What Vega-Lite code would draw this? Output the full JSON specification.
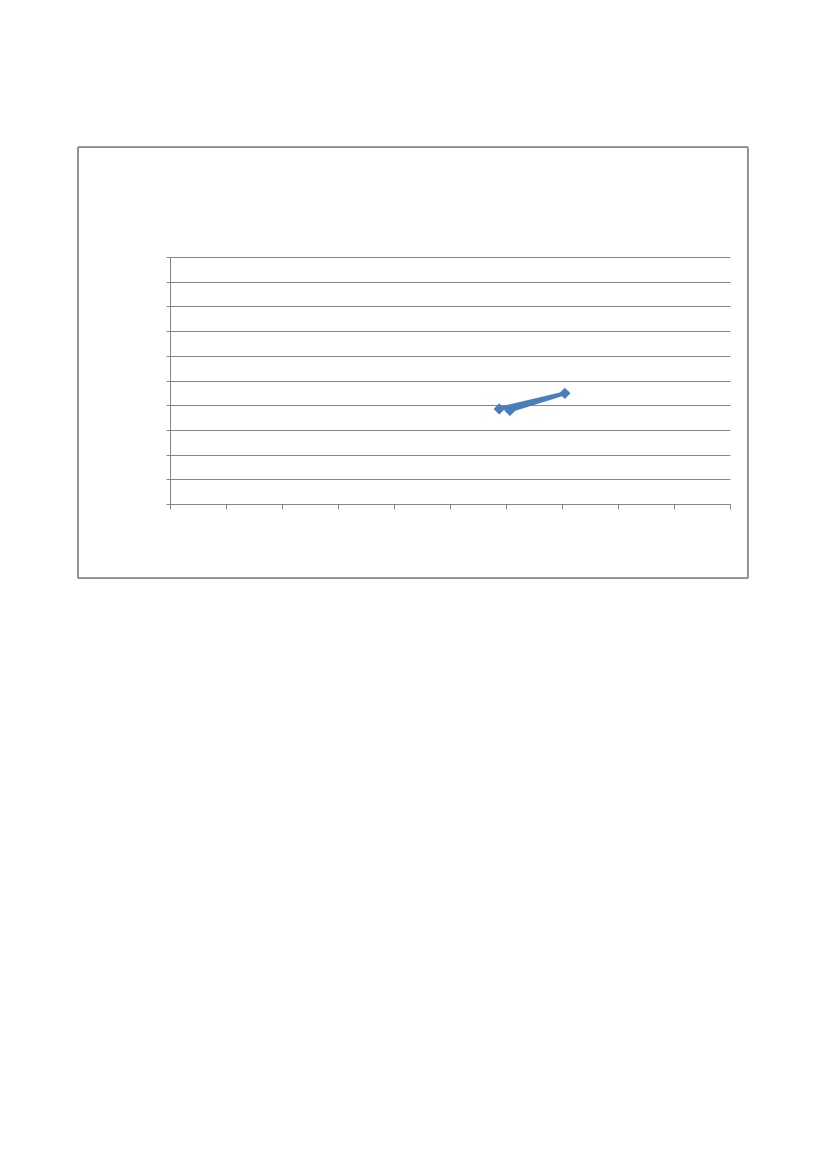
{
  "$schema": "https://vega.github.io/schema/vega-lite/v6.json",
  "autosize": "none",
  "width": 560,
  "height": 247,
  "padding": {"left": 170, "top": 257, "right": 97, "bottom": 665},
  "background": "white",
  "config": {
    "view": {"stroke": null},
    "axis": {"labels": false, "title": null, "tickCount": 10, "domainColor": "#868686", "tickColor": "#868686", "gridColor": "#868686", "gridOpacity": 1, "domainWidth": 1},
    "axisX": {"grid": false, "tickSize": 5},
    "axisY": {"grid": true, "tickSize": 4}
  },
  "data": {"values": [
    {"order": 1, "x": 5.88, "y": 3.85},
    {"order": 2, "x": 7.05, "y": 4.48},
    {"order": 3, "x": 6.07, "y": 3.79}
  ]},
  "layer": [
    {
      "mark": {"type": "line", "color": "#4a7ebb", "strokeWidth": 4},
      "encoding": {
        "x": {"field": "x", "type": "quantitative", "title": null,
              "scale": {"domain": [0, 10], "nice": false, "zero": false}},
        "y": {"field": "y", "type": "quantitative", "title": null,
              "scale": {"domain": [0, 10], "nice": false, "zero": false}},
        "order": {"field": "order"}
      }
    },
    {
      "mark": {"type": "point", "shape": "diamond", "filled": true, "color": "#4a7ebb", "size": 130, "opacity": 1},
      "encoding": {
        "x": {"field": "x", "type": "quantitative", "title": null},
        "y": {"field": "y", "type": "quantitative", "title": null}
      }
    },
    {
      "mark": {"type": "rect", "fill": null, "stroke": "#868686", "strokeWidth": 1, "clip": false},
      "encoding": {
        "x": {"datum": -1.643, "type": "quantitative", "title": null},
        "x2": {"datum": 10.32},
        "y": {"datum": 14.45, "type": "quantitative", "title": null},
        "y2": {"datum": -3.0}
      }
    }
  ]
}
